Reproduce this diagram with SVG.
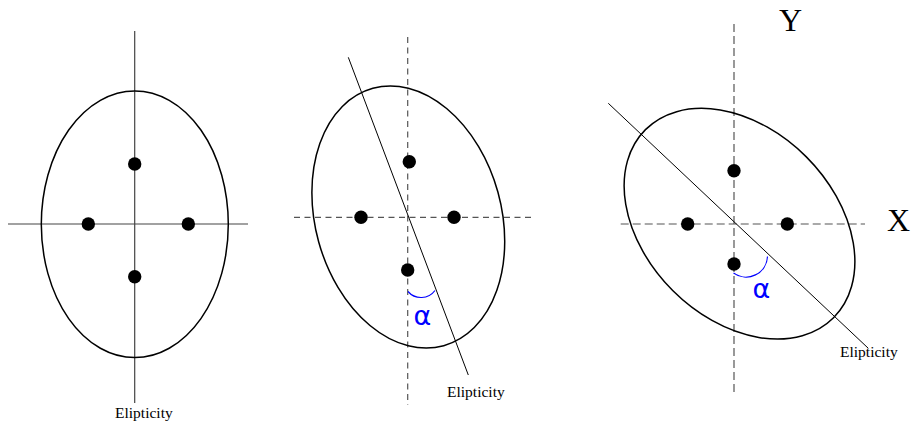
<svg xmlns="http://www.w3.org/2000/svg" width="914" height="430" viewBox="0 0 914 430">
<style>
.ell{fill:none;stroke:#000;stroke-width:1.5}
.axis{stroke:#444;stroke-width:1.2;fill:none}
.dash{stroke:#555;stroke-width:1.2;fill:none}
.tilt{stroke:#000;stroke-width:1;fill:none}
.dot{fill:#000}
.arc{fill:none;stroke:#0000ff;stroke-width:1.2}
.lbl{font-family:"Liberation Serif","Times New Roman",serif;font-size:15.5px;fill:#000}
.big{font-family:"Liberation Serif","Times New Roman",serif;font-size:32px;fill:#000}
.alpha{font-family:"DejaVu Sans",sans-serif;font-size:27px;fill:#0000ff}
</style>
<rect width="914" height="430" fill="#fff"/>
<g id="figure1">
  <g id="axes1">
    <line class="axis" x1="134.7" y1="31" x2="134.7" y2="403"/>
    <line class="axis" x1="8" y1="224" x2="248" y2="224"/>
  </g>
  <ellipse id="ellipse1" class="ell" cx="134.8" cy="224.3" rx="93.5" ry="133.3"/>
  <g id="dots1">
    <circle class="dot" cx="134.7" cy="164" r="6.7"/>
    <circle class="dot" cx="134.7" cy="276.7" r="6.7"/>
    <circle class="dot" cx="88.3" cy="224" r="6.7"/>
    <circle class="dot" cx="188.3" cy="224" r="6.7"/>
  </g>
  <text id="label1" class="lbl" x="115" y="418">Elipticity</text>
</g>
<g id="figure2">
  <g id="axes2">
    <line class="dash" stroke-dasharray="6 4.5" x1="407.7" y1="37" x2="407.7" y2="405"/>
    <line class="dash" stroke-dasharray="6 4.5" x1="294" y1="217.3" x2="535" y2="217.3"/>
    <line class="tilt" x1="348.3" y1="57.3" x2="468.3" y2="375"/>
  </g>
  <ellipse id="ellipse2" class="ell" cx="0" cy="0" rx="93" ry="133.5" transform="translate(408.3 217) rotate(-15.4)"/>
  <g id="dots2">
    <circle class="dot" cx="409.3" cy="161.7" r="6.7"/>
    <circle class="dot" cx="407.7" cy="270" r="6.7"/>
    <circle class="dot" cx="361" cy="217.3" r="6.7"/>
    <circle class="dot" cx="454" cy="217.3" r="6.7"/>
  </g>
  <path id="angle2" class="arc" d="M408,291.5 A17.3,17.3 0 0 0 435,290.5"/>
  <text id="alpha2" class="alpha" x="413.5" y="324.5">α</text>
  <text id="label2" class="lbl" x="447" y="396.5">Elipticity</text>
</g>
<g id="figure3">
  <g id="axes3">
    <line class="dash" stroke-dasharray="8 4" x1="734" y1="24" x2="734" y2="392"/>
    <line class="dash" stroke-dasharray="8 4" x1="620.7" y1="224" x2="865" y2="224"/>
    <line class="tilt" x1="608.3" y1="103.3" x2="868.3" y2="348.3"/>
  </g>
  <ellipse id="ellipse3" class="ell" cx="0" cy="0" rx="94.5" ry="133" transform="translate(739.5 223.7) rotate(-45)"/>
  <g id="dots3">
    <circle class="dot" cx="734" cy="170.7" r="6.7"/>
    <circle class="dot" cx="734" cy="264" r="6.7"/>
    <circle class="dot" cx="687.7" cy="224" r="6.7"/>
    <circle class="dot" cx="787.3" cy="224" r="6.7"/>
  </g>
  <path id="angle3" class="arc" d="M733.5,273 A21.5,21.5 0 0 0 767.5,256.5"/>
  <text id="alpha3" class="alpha" x="752.5" y="298">α</text>
  <text id="label3" class="lbl" x="840" y="357">Elipticity</text>
  <text id="ylabel" class="big" x="779" y="31">Y</text>
  <text id="xlabel" class="big" x="887" y="231">X</text>
</g>
</svg>
